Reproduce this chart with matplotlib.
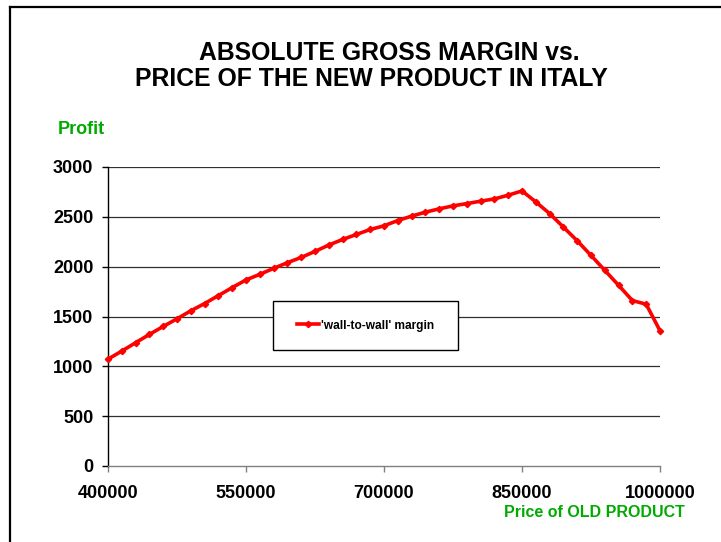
import matplotlib
matplotlib.use("Agg")
import matplotlib.pyplot as plt
from matplotlib.lines import Line2D
from matplotlib.patches import Rectangle

plt.rcParams['font.family'] = ['Liberation Sans', 'DejaVu Sans']

# Data
price_start = 400000
price_step = 15000
margin = [1072, 1153, 1237, 1320, 1400, 1477, 1557, 1630, 1710, 1790,
          1867, 1923, 1983, 2040, 2093, 2153, 2217, 2273, 2323, 2373,
          2410, 2463, 2507, 2547, 2580, 2610, 2633, 2657, 2680, 2717,
          2760, 2650, 2533, 2397, 2260, 2113, 1963, 1813, 1660, 1623,
          1357]
price = [price_start + i * price_step for i in range(len(margin))]
x_ticks = [400000, 550000, 700000, 850000, 1000000]
y_ticks = [0, 500, 1000, 1500, 2000, 2500, 3000]
series_label = "'wall-to-wall' margin"
title_lines = ["ABSOLUTE GROSS MARGIN vs.", "PRICE OF THE NEW PRODUCT IN ITALY"]
y_label = "Profit"
x_label = "Price of OLD PRODUCT"

W, H = 721, 542
fig = plt.figure(figsize=(W / 100, H / 100), dpi=100)
fig.patch.set_facecolor('white')

left, right = 108 / W, 660 / W
bottom, top = 1 - 466 / H, 1 - 167 / H
ax = fig.add_axes([left, bottom, right - left, top - bottom])

for y in y_ticks[1:]:
    ax.axhline(y, color='#303030', lw=0.9, zorder=1)

ax.plot(price, margin, color='#FF0000', lw=2.6, marker='D', ms=3.2,
        mec='#FF0000', mfc='#FF0000', label=series_label, zorder=3, clip_on=False)

ax.set_xlim(400000, 1000000)
ax.set_ylim(0, 3000)
ax.set_xticks(x_ticks)
ax.set_xticklabels([str(v) for v in x_ticks])
ax.set_yticks(y_ticks)
ax.set_yticklabels([str(v) for v in y_ticks])

for s in ['top', 'right']:
    ax.spines[s].set_visible(False)
ax.spines['left'].set_color('black')
ax.spines['left'].set_linewidth(1.0)
ax.spines['bottom'].set_color('#808080')
ax.spines['bottom'].set_linewidth(1.0)

ax.tick_params(axis='y', direction='out', length=4.5, width=1.0, color='black',
               pad=6, labelsize=13)
ax.tick_params(axis='x', direction='out', length=4.5, width=1.0, color='#808080',
               pad=9, labelsize=13)
for lab in ax.get_xticklabels() + ax.get_yticklabels():
    lab.set_fontweight('bold')

# legend box (drawn as a patch so its size matches exactly)
ax.add_patch(Rectangle((272.5 / W, 1 - 350 / H), 185 / W, 49.3 / H,
                       transform=fig.transFigure, facecolor='white',
                       edgecolor='black', lw=1.0, zorder=4, clip_on=False))
leg = ax.legend(loc='center', bbox_to_anchor=(365.5 / W, 1 - 325.5 / H),
                bbox_transform=fig.transFigure,
                prop={'weight': 'bold', 'size': 8.6},
                frameon=False, borderpad=0.5, handlelength=1.85,
                handletextpad=0.15)
leg.set_zorder(5)

fig.text(389 / W, 1 - 52.5 / H, title_lines[0], ha='center', va='center',
         fontsize=17.8, fontweight='bold')
fig.text(371 / W, 1 - 78.5 / H, title_lines[1], ha='center', va='center',
         fontsize=17.8, fontweight='bold')
fig.text(81 / W, 1 - 130 / H, y_label, ha='center', va='center',
         fontsize=13, fontweight='bold', color='#00AA00')
fig.text(594.5 / W, 1 - 512.5 / H, x_label, ha='center', va='center',
         fontsize=11.5, fontweight='bold', color='#00AA00')

# outer frame (top and left edges visible)
fig.add_artist(Line2D([10 / W, 1], [1 - 7 / H, 1 - 7 / H], color='black', lw=1.6,
                      transform=fig.transFigure))
fig.add_artist(Line2D([10 / W, 10 / W], [1 - 7 / H, 0], color='black', lw=1.6,
                      transform=fig.transFigure))

fig.savefig('out.png', dpi=100)
